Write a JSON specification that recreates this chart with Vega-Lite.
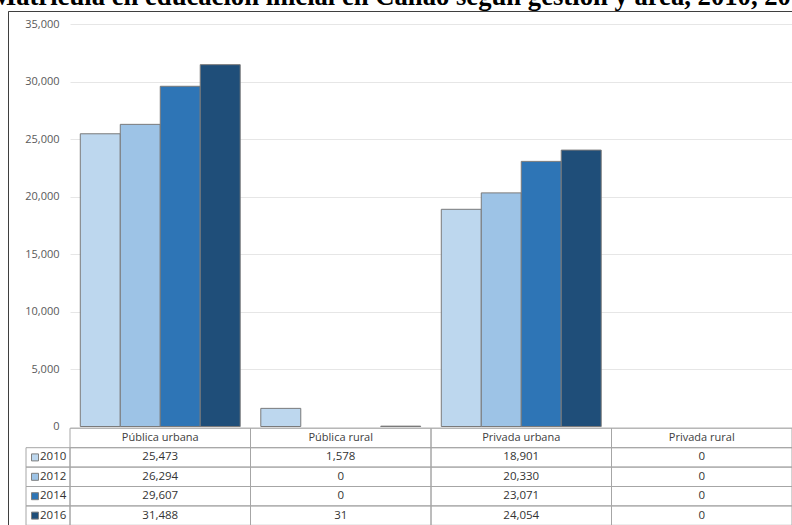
{
  "$schema": "https://vega.github.io/schema/vega-lite/v6.json",
  "autosize": {"type": "none"},
  "padding": {"left": 8, "top": 11, "right": 0, "bottom": 0},
  "width": 784,
  "height": 514,
  "background": "white",
  "title": {
    "text": "Matrícula en educación inicial en Callao según gestión y área, 2010, 2016",
    "anchor": "start",
    "frame": "group",
    "font": "Liberation Serif",
    "fontSize": 26.67,
    "fontWeight": "bold",
    "color": "#000000",
    "baseline": "alphabetic",
    "offset": -21,
    "dx": -17
  },
  "datasets": {
    "d": [
      {"gestion": "Pública urbana", "anio": "2010", "valor": 25473},
      {"gestion": "Pública urbana", "anio": "2012", "valor": 26294},
      {"gestion": "Pública urbana", "anio": "2014", "valor": 29607},
      {"gestion": "Pública urbana", "anio": "2016", "valor": 31488},
      {"gestion": "Pública rural", "anio": "2010", "valor": 1578},
      {"gestion": "Pública rural", "anio": "2012", "valor": 0},
      {"gestion": "Pública rural", "anio": "2014", "valor": 0},
      {"gestion": "Pública rural", "anio": "2016", "valor": 31},
      {"gestion": "Privada urbana", "anio": "2010", "valor": 18901},
      {"gestion": "Privada urbana", "anio": "2012", "valor": 20330},
      {"gestion": "Privada urbana", "anio": "2014", "valor": 23071},
      {"gestion": "Privada urbana", "anio": "2016", "valor": 24054},
      {"gestion": "Privada rural", "anio": "2010", "valor": 0},
      {"gestion": "Privada rural", "anio": "2012", "valor": 0},
      {"gestion": "Privada rural", "anio": "2014", "valor": 0},
      {"gestion": "Privada rural", "anio": "2016", "valor": 0}
    ],
    "h": [
      {"gestion": "Pública urbana", "fila": "encabezado"},
      {"gestion": "Pública rural", "fila": "encabezado"},
      {"gestion": "Privada urbana", "fila": "encabezado"},
      {"gestion": "Privada rural", "fila": "encabezado"}
    ],
    "a": [
      {"anio": "2010", "col": "leyenda"},
      {"anio": "2012", "col": "leyenda"},
      {"anio": "2014", "col": "leyenda"},
      {"anio": "2016", "col": "leyenda"}
    ]
  },
  "config": {
    "view": {"stroke": "#3f3f3f", "strokeWidth": 1, "strokeDash": [784, 1298, 514]},
    "font": "Open Sans"
  },
  "layer": [
    {
      "data": {"name": "d"},
      "transform": [{"filter": "datum.valor > 0"}],
      "mark": {"type": "bar", "stroke": "#7a7a7a", "strokeWidth": 1},
      "encoding": {
        "x": {
          "field": "gestion", "type": "nominal",
          "scale": {"type": "band", "domain": ["Pública urbana", "Pública rural", "Privada urbana", "Privada rural"], "range": [62, 784], "paddingInner": 0.114, "paddingOuter": 0.057},
          "axis": null
        },
        "xOffset": {
          "field": "anio", "type": "nominal",
          "scale": {"domain": ["2010", "2012", "2014", "2016"], "paddingInner": 0, "paddingOuter": 0}
        },
        "y": {
          "field": "valor", "type": "quantitative",
          "scale": {"domain": [0, 35000], "range": [415.5, 13.3], "nice": false, "zero": true},
          "axis": {
            "orient": "left", "offset": -62, "values": [0, 5000, 10000, 15000, 20000, 25000, 30000, 35000],
            "format": ",.0f", "domain": false, "ticks": false, "labelPadding": 11,
            "labelFont": "Open Sans", "labelFontSize": 11, "labelColor": "#595959",
            "grid": true, "gridColor": "#e6e6e6", "gridWidth": 1, "title": null
          }
        },
        "color": {
          "field": "anio", "type": "nominal",
          "scale": {"domain": ["2010", "2012", "2014", "2016"], "range": ["#bdd7ee", "#9dc3e6", "#2e75b6", "#1f4e79"]},
          "legend": null
        }
      }
    },
    {
      "data": {"name": "h"},
      "mark": {"type": "rect", "fill": "transparent", "stroke": "#a6a6a6", "strokeWidth": 1},
      "encoding": {
        "x": {
          "field": "gestion", "type": "nominal",
          "scale": {"type": "band", "domain": ["Pública urbana", "Pública rural", "Privada urbana", "Privada rural"], "range": [62, 784], "paddingInner": 0, "paddingOuter": 0},
          "axis": null
        },
        "y": {
          "field": "fila", "type": "nominal",
          "scale": {"type": "band", "domain": ["encabezado", "2010", "2012", "2014", "2016"], "range": [417.3, 514.3], "paddingInner": 0, "paddingOuter": 0},
          "axis": null
        }
      }
    },
    {
      "data": {"name": "d"},
      "mark": {"type": "rect", "fill": "transparent", "stroke": "#a6a6a6", "strokeWidth": 1},
      "encoding": {
        "x": {
          "field": "gestion", "type": "nominal",
          "scale": {"type": "band", "domain": ["Pública urbana", "Pública rural", "Privada urbana", "Privada rural"], "range": [62, 784], "paddingInner": 0, "paddingOuter": 0},
          "axis": null
        },
        "y": {
          "field": "anio", "type": "nominal",
          "scale": {"type": "band", "domain": ["encabezado", "2010", "2012", "2014", "2016"], "range": [417.3, 514.3], "paddingInner": 0, "paddingOuter": 0},
          "axis": null
        }
      }
    },
    {
      "data": {"name": "h"},
      "mark": {"type": "text", "font": "Open Sans", "fontSize": 11, "color": "#404040"},
      "encoding": {
        "x": {
          "field": "gestion", "type": "nominal",
          "scale": {"type": "band", "domain": ["Pública urbana", "Pública rural", "Privada urbana", "Privada rural"], "range": [62, 784], "paddingInner": 0, "paddingOuter": 0},
          "axis": null
        },
        "y": {
          "field": "fila", "type": "nominal",
          "scale": {"type": "band", "domain": ["encabezado", "2010", "2012", "2014", "2016"], "range": [417.3, 514.3], "paddingInner": 0, "paddingOuter": 0},
          "axis": null
        },
        "text": {"field": "gestion", "type": "nominal"}
      }
    },
    {
      "data": {"name": "d"},
      "mark": {"type": "text", "font": "Open Sans", "fontSize": 11.5, "color": "#333333"},
      "encoding": {
        "x": {
          "field": "gestion", "type": "nominal",
          "scale": {"type": "band", "domain": ["Pública urbana", "Pública rural", "Privada urbana", "Privada rural"], "range": [62, 784], "paddingInner": 0, "paddingOuter": 0},
          "axis": null
        },
        "y": {
          "field": "anio", "type": "nominal",
          "scale": {"type": "band", "domain": ["encabezado", "2010", "2012", "2014", "2016"], "range": [417.3, 514.3], "paddingInner": 0, "paddingOuter": 0},
          "axis": null
        },
        "text": {"field": "valor", "type": "quantitative", "format": ","}
      }
    },
    {
      "data": {"name": "a"},
      "mark": {"type": "rect", "fill": "transparent", "stroke": "#a6a6a6", "strokeWidth": 1},
      "encoding": {
        "x": {
          "field": "col", "type": "nominal",
          "scale": {"type": "band", "domain": ["leyenda"], "range": [18, 62], "paddingInner": 0, "paddingOuter": 0},
          "axis": null
        },
        "y": {
          "field": "anio", "type": "nominal",
          "scale": {"type": "band", "domain": ["encabezado", "2010", "2012", "2014", "2016"], "range": [417.3, 514.3], "paddingInner": 0, "paddingOuter": 0},
          "axis": null
        }
      }
    },
    {
      "data": {"name": "a"},
      "mark": {"type": "point", "shape": "square", "filled": true, "size": 49, "stroke": "#7f7f7f", "strokeWidth": 1, "opacity": 1, "xOffset": -13},
      "encoding": {
        "x": {
          "field": "col", "type": "nominal",
          "scale": {"type": "band", "domain": ["leyenda"], "range": [18, 62], "paddingInner": 0, "paddingOuter": 0},
          "axis": null
        },
        "y": {
          "field": "anio", "type": "nominal",
          "scale": {"type": "band", "domain": ["encabezado", "2010", "2012", "2014", "2016"], "range": [417.3, 514.3], "paddingInner": 0, "paddingOuter": 0},
          "axis": null
        },
        "color": {"field": "anio", "type": "nominal", "legend": null}
      }
    },
    {
      "data": {"name": "a"},
      "mark": {"type": "text", "font": "Open Sans", "fontSize": 11.5, "color": "#333333", "align": "left", "xOffset": -8},
      "encoding": {
        "x": {
          "field": "col", "type": "nominal",
          "scale": {"type": "band", "domain": ["leyenda"], "range": [18, 62], "paddingInner": 0, "paddingOuter": 0},
          "axis": null
        },
        "y": {
          "field": "anio", "type": "nominal",
          "scale": {"type": "band", "domain": ["encabezado", "2010", "2012", "2014", "2016"], "range": [417.3, 514.3], "paddingInner": 0, "paddingOuter": 0},
          "axis": null
        },
        "text": {"field": "anio", "type": "nominal"}
      }
    }
  ],
  "resolve": {
    "scale": {"x": "independent", "y": "independent"}
  }
}
